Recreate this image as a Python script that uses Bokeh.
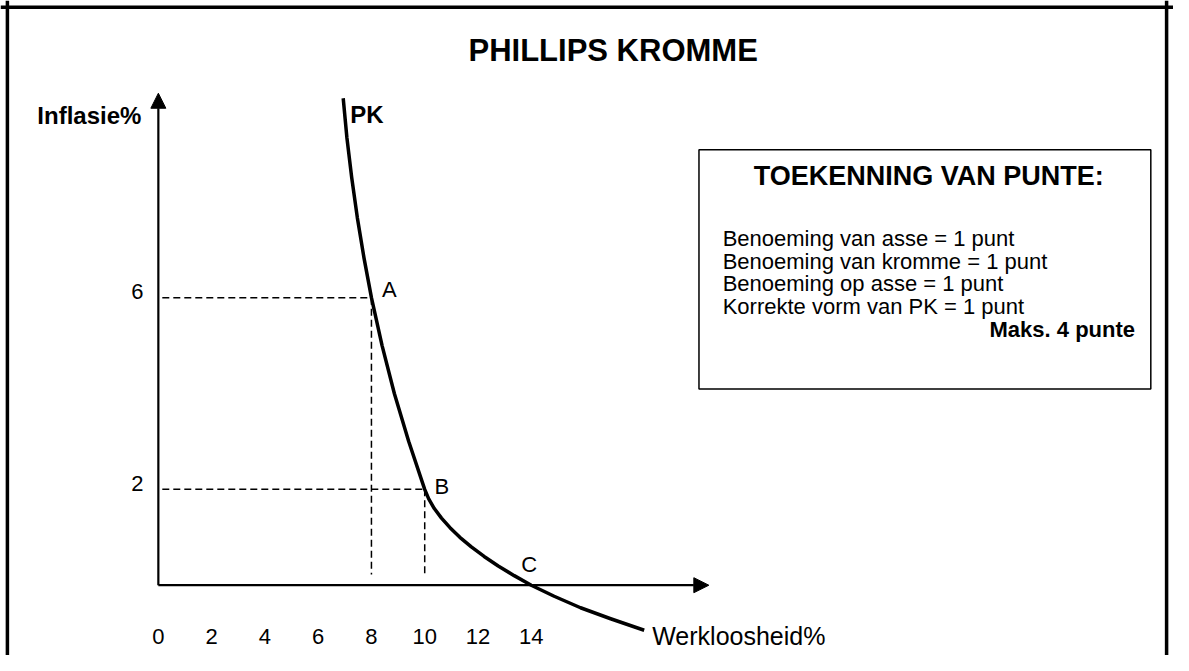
from bokeh.plotting import figure
from bokeh.models import Range1d, Arrow, NormalHead, Span
from bokeh.core.properties import value
from bokeh.embed import file_html
from bokeh.resources import INLINE

# ---------------- data ----------------
title_text = "PHILLIPS KROMME"
x_label = "Werkloosheid%"
y_label = "Inflasie%"
curve_label = "PK"

x_ticks = [0, 2, 4, 6, 8, 10, 12, 14]
x_tick_labels = ["0", "2", "4", "6", "8", "10", "12", "14"]
y_ticks = [6, 2]
y_tick_labels = ["6", "2"]

point_names = ["A", "B", "C"]
point_unemployment = [8, 10, 14]
point_inflation = [6, 2, 0]

# Phillips curve (PK)
pk_unemployment = [6.94, 7.08, 7.26, 7.47, 7.72, 8.00, 8.40, 8.86, 9.40, 10.00,
                   10.15, 10.36, 10.63, 10.95, 11.32, 11.75, 12.23, 12.76, 13.36,
                   14.00, 14.86, 15.85, 16.98, 18.24]
pk_inflation = [10.16, 9.33, 8.50, 7.67, 6.83, 6.00, 5.00, 4.00, 3.00, 2.00,
                1.80, 1.60, 1.40, 1.20, 1.00, 0.80, 0.60, 0.40, 0.20,
                0.00, -0.23, -0.47, -0.70, -0.94]

box_heading = "TOEKENNING VAN PUNTE:"
box_lines = ["Benoeming van asse = 1 punt",
             "Benoeming van kromme = 1 punt",
             "Benoeming op asse = 1 punt",
             "Korrekte vorm van PK = 1 punt"]
box_total = "Maks. 4 punte"

# ---------------- layout ----------------
W, H = 1173, 655                   # canvas size
REF_W, REF_H = 1189, 671           # design space the canvas shows
ORIGIN_X, ORIGIN_Y = 160, 599      # design pixel of the origin
KX, KY = 27.0, 49.1                # design pixels per unit


def dx(px):
    return (px - ORIGIN_X) / KX


def dy(py):
    return (ORIGIN_Y - py) / KY


X_AXIS_END = dx(718)
Y_AXIS_END = dy(95)
DASH_START = dx(164)
DASH_BOTTOM = dy(588)

FONT = value("Liberation Sans")

p = figure(width=W, height=H,
           x_range=Range1d(dx(0), dx(REF_W)),
           y_range=Range1d(dy(REF_H), dy(0)),
           x_axis_type=None, y_axis_type=None,
           output_backend="svg", toolbar_location=None,
           min_border=0, outline_line_color=None)
p.background_fill_color = "white"
p.border_fill_color = "white"

# outer frame
p.add_layout(Span(location=dx(7), dimension="height", line_color="black", line_width=3.5))
p.add_layout(Span(location=dx(1182), dimension="height", line_color="black", line_width=3.5))
p.add_layout(Span(location=dy(7), dimension="width", line_color="black", line_width=3.5))

# title
p.text(x=[dx(621)], y=[dy(51)], text=[title_text], text_align="center",
       text_baseline="middle", text_font=FONT, text_font_size="31px",
       text_font_style="bold", text_color="black")

# axes with arrows
p.add_layout(Arrow(end=NormalHead(size=15, fill_color="black", line_color="black"),
                   x_start=0, y_start=0, x_end=X_AXIS_END, y_end=0,
                   line_color="black", line_width=2.2))
p.add_layout(Arrow(end=NormalHead(size=15, fill_color="black", line_color="black"),
                   x_start=0, y_start=0, x_end=0, y_end=Y_AXIS_END,
                   line_color="black", line_width=2.2))

# dashed guide lines for A and B
guide_x = [u for u, i in zip(point_unemployment, point_inflation) if i > 0]
guide_y = [i for i in point_inflation if i > 0]
p.segment(x0=[DASH_START] * len(guide_x), y0=guide_y, x1=guide_x, y1=guide_y,
          line_color="black", line_width=1.5, line_dash="7 4")
p.segment(x0=guide_x, y0=guide_y, x1=guide_x, y1=[DASH_BOTTOM] * len(guide_x),
          line_color="black", line_width=1.5, line_dash="7 4")

# Phillips curve
p.line(pk_unemployment, pk_inflation, line_color="black", line_width=3.5,
       line_join="round", line_cap="butt")

# point labels
p.text(x=point_unemployment, y=point_inflation, text=point_names,
       x_offset=[18, 17, -2], y_offset=[-8, -3, -21],
       text_align="center", text_baseline="middle", text_font=FONT,
       text_font_size="22px", text_color="black")

# tick labels
p.text(x=x_ticks, y=[0] * len(x_ticks), text=x_tick_labels, y_offset=51,
       text_align="center", text_baseline="middle", text_font=FONT,
       text_font_size="22px", text_color="black")
p.text(x=[0] * len(y_ticks), y=y_ticks, text=y_tick_labels, x_offset=-21, y_offset=-6,
       text_align="center", text_baseline="middle", text_font=FONT,
       text_font_size="22px", text_color="black")

# axis titles and curve label
p.text(x=[0], y=[Y_AXIS_END], text=[y_label], x_offset=-17, y_offset=22,
       text_align="right", text_baseline="middle", text_font=FONT,
       text_font_size="24px", text_font_style="bold", text_color="black")
p.text(x=[pk_unemployment[-1]], y=[0], text=[x_label], x_offset=8, y_offset=51,
       text_align="left", text_baseline="middle", text_font=FONT,
       text_font_size="25px", text_color="black")
p.text(x=[pk_unemployment[0]], y=[pk_inflation[0]], text=[curve_label], x_offset=7, y_offset=16,
       text_align="left", text_baseline="middle", text_font=FONT,
       text_font_size="24px", text_font_style="bold", text_color="black")

# marking box
p.quad(left=[dx(708)], right=[dx(1166)], top=[dy(153)], bottom=[dy(398)],
       fill_color="white", line_color="black", line_width=1.5)
p.text(x=[dx(941)], y=[dy(180)], text=[box_heading], text_align="center",
       text_baseline="middle", text_font=FONT, text_font_size="27px",
       text_font_style="bold", text_color="black")
p.text(x=[dx(732)] * len(box_lines),
       y=[dy(243.7 + 23.3 * k) for k in range(len(box_lines))],
       text=box_lines, text_align="left", text_baseline="alphabetic",
       text_font=FONT, text_font_size="22px", text_color="black")
p.text(x=[dx(1150)], y=[dy(337)], text=[box_total], text_align="right",
       text_baseline="alphabetic", text_font=FONT, text_font_size="22px",
       text_font_style="bold", text_color="black")

open("out.html", "w").write(file_html(p, INLINE))
